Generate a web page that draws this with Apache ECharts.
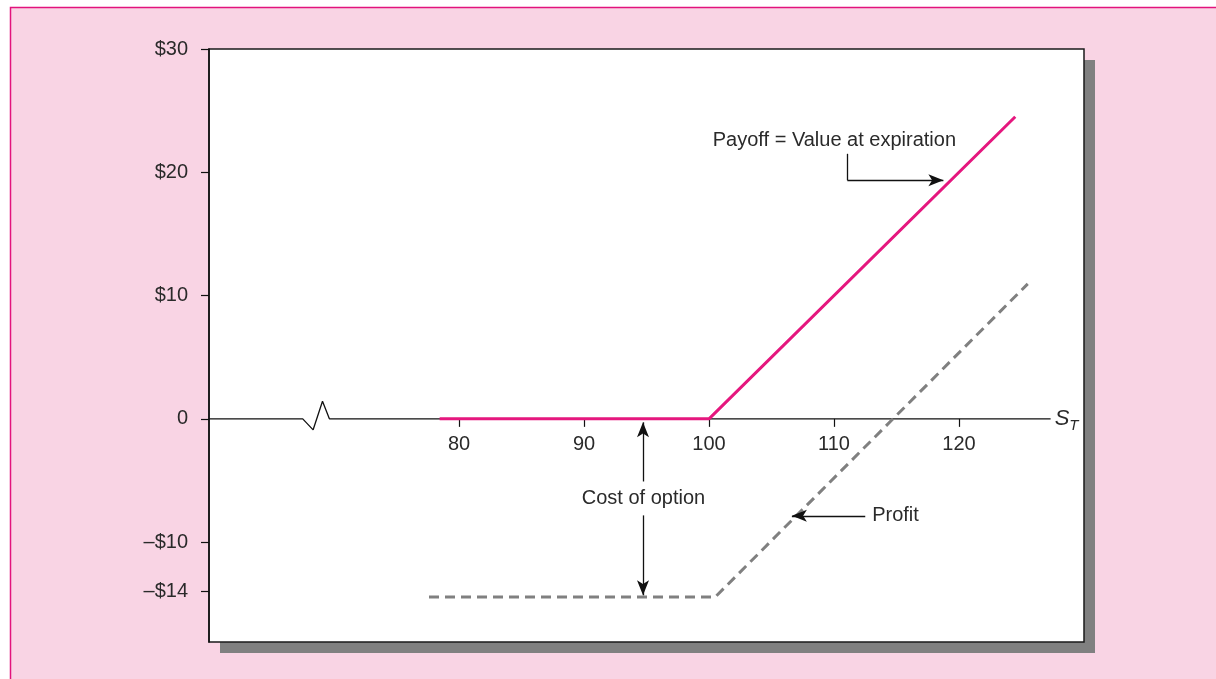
<!DOCTYPE html>
<html>
<head>
<meta charset="utf-8">
<title>Call option payoff and profit</title>
<script src="https://cdn.jsdelivr.net/npm/echarts@6/dist/echarts.min.js"></script>
<style>
  html, body { margin: 0; padding: 0; background: #fff; }
  #main { width: 1216px; height: 679px; }
</style>
</head>
<body>
<div id="main"></div>
<script type="text/javascript">
// tick positions and labels
var xTicks = [80, 90, 100, 110, 120];
var yTicks = [30, 20, 10, 0, -10, -14];
var yLabels = ['$30', '$20', '$10', '0', '–$10', '–$14'];

// horizontal axis drawn at zero, with the break mark near the left
var zeroAxis = [[60, 0], [67.5, 0], [68.33, -0.89], [69.08, 1.43], [69.63, 0], [127.33, 0]];

// payoff = value at expiration, and profit (dashed)
var payoff = [[78.45, 0], [100, 0], [124.5, 24.5]];
var profit = [[77.6, -14.45], [100.5, -14.45], [125.5, 10.95]];

// annotation arrows (from -> to), in data units
var payoffElbow = [[111.07, 21.5], [111.07, 19.35]];
var payoffArrow = [[111.07, 19.35], [118.75, 19.35]];
var costUpArrow = [[94.72, -5.08], [94.72, -0.28]];
var costDownArrow = [[94.72, -7.83], [94.72, -14.31]];
var profitArrow = [[112.5, -7.86], [106.63, -7.86]];

// annotation texts
var notes = [
    { text: 'Payoff = Value at expiration', at: [100.3, 22.59], pos: 'right' },
    { text: 'Cost of option', at: [94.76, -6.45], pos: 'inside' },
    { text: 'Profit', at: [113.05, -7.86], pos: 'right' }
];

var FONT = "'Liberation Sans', Arial, Helvetica, sans-serif";
var TXT = '#2a2a2a';

var myChart = echarts.init(document.getElementById('main'));

function seg(pair, arrow) {
    return [
        { coord: pair[0], symbol: 'none', symbolSize: 0 },
        { coord: pair[1], symbol: arrow ? 'arrow' : 'none', symbolSize: [9, 15] }
    ];
}

var markPts = notes.map(function (n) {
    return {
        coord: n.at,
        label: {
            show: true,
            position: n.pos,
            distance: 0,
            formatter: n.text,
            color: TXT,
            fontSize: 20,
            fontFamily: FONT
        }
    };
});
// x tick labels sit under the zero line
xTicks.forEach(function (v) {
    markPts.push({
        coord: [v, 0],
        label: {
            show: true,
            position: 'bottom',
            distance: 16,
            formatter: String(v),
            color: TXT,
            fontSize: 20,
            fontFamily: FONT
        }
    });
});
markPts.push({
    coord: zeroAxis[zeroAxis.length - 1],
    label: {
        show: true,
        position: 'right',
        distance: 4,
        formatter: '{s|S}{t|T}',
        rich: {
            s: { fontSize: 22, fontStyle: 'italic', color: TXT, fontFamily: FONT },
            t: { fontSize: 15, fontStyle: 'italic', color: TXT, fontFamily: FONT, padding: [14, 0, 0, 0] }
        }
    }
});

var gridBox = { left: 209, top: 49, right: 132, bottom: 37 };

var option = {
    backgroundColor: '#ffffff',
    animation: false,
    graphic: [{
        type: 'rect',
        z: -100,
        shape: { x: 10.5, y: 7.5, width: 1300, height: 800 },
        style: { fill: '#f9d4e4', stroke: '#e2137c', lineWidth: 1.5 }
    }],
    grid: [
        {
            show: true,
            left: gridBox.left, top: gridBox.top, right: gridBox.right, bottom: gridBox.bottom,
            backgroundColor: '#ffffff',
            borderWidth: 0,
            shadowColor: '#808080',
            shadowBlur: 0,
            shadowOffsetX: 11,
            shadowOffsetY: 11
        },
        {
            show: true,
            left: gridBox.left, top: gridBox.top, right: gridBox.right, bottom: gridBox.bottom,
            backgroundColor: 'transparent',
            borderColor: '#1a1a1a',
            borderWidth: 1.5
        }
    ],
    xAxis: [
        {
            type: 'value',
            min: 60,
            max: 130,
            splitLine: { show: false },
            axisLine: { show: true, onZero: true, lineStyle: { color: 'rgba(0,0,0,0)' } },
            axisTick: {
                show: true,
                customValues: xTicks,
                length: 8,
                lineStyle: { color: '#111', width: 1.2 }
            },
            axisLabel: { show: false }
        },
        { gridIndex: 1, type: 'value', show: false, min: 0, max: 1 }
    ],
    yAxis: [
        {
            type: 'value',
            min: -18.1,
            max: 30,
            splitLine: { show: false },
            axisLine: { show: true, onZero: false, lineStyle: { color: '#111', width: 1.5 } },
            axisTick: {
                show: true,
                customValues: yTicks,
                length: 8,
                lineStyle: { color: '#111', width: 1.2 }
            },
            axisLabel: {
                customValues: yTicks,
                margin: 21,
                fontSize: 20,
                color: TXT,
                fontFamily: FONT,
                formatter: function (v) {
                    var i = yTicks.indexOf(Math.round(v));
                    return i >= 0 ? yLabels[i] : '';
                }
            }
        },
        { gridIndex: 1, type: 'value', show: false, min: 0, max: 1 }
    ],
    series: [
        {
            name: 'axis',
            type: 'line',
            data: zeroAxis,
            symbol: 'none',
            silent: true,
            lineStyle: { color: '#111', width: 1.3 },
            markPoint: {
                symbol: 'circle',
                symbolSize: 0,
                silent: true,
                data: markPts
            },
            markLine: {
                silent: true,
                symbol: ['none', 'arrow'],
                symbolSize: 12,
                label: { show: false },
                lineStyle: { color: '#111', width: 1.3, type: 'solid' },
                data: [
                    seg(payoffElbow, false),
                    seg(payoffArrow, true),
                    seg(costUpArrow, true),
                    seg(costDownArrow, true),
                    seg(profitArrow, true)
                ]
            }
        },
        {
            name: 'Profit',
            type: 'line',
            data: profit,
            symbol: 'none',
            silent: true,
            lineStyle: { color: '#808080', width: 3, type: [10, 6] }
        },
        {
            name: 'Payoff',
            type: 'line',
            data: payoff,
            symbol: 'none',
            silent: true,
            lineStyle: { color: '#e5177e', width: 3 }
        }
    ]
};

myChart.setOption(option);
</script>
</body>
</html>
